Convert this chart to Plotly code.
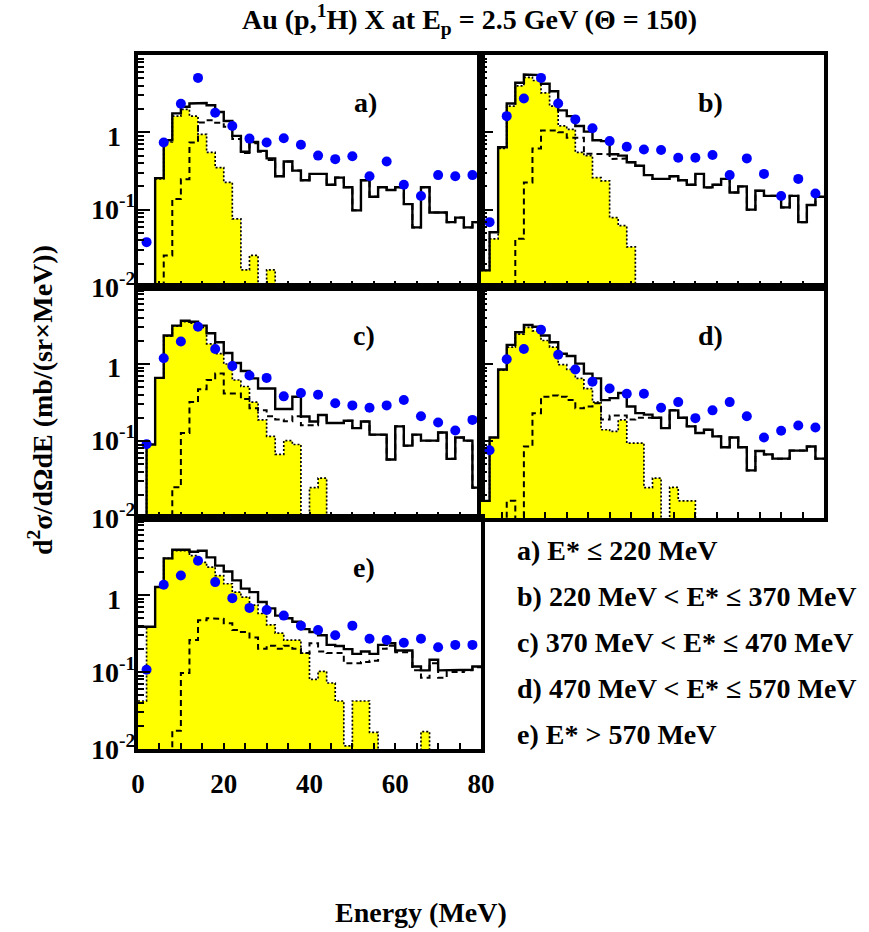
import math
import plotly.graph_objects as go

# ---------------- data ----------------
bin_edges = list(range(0, 82, 2))          # 2 MeV bins, 0..80 MeV
point_x = list(range(2, 80, 4))            # experimental points every 4 MeV

# panel a) E* <= 220 MeV
a_total = [0, 0, 0.256, 0.79, 1.76, 2.14, 2.36, 2.40, 2.24, 1.83,
           1.40, 0.90, 0.56, 0.75, 0.575, 0.46, 0.27, 0.42, 0.32, 0.24,
           0.29, 0.29, 0.21, 0.26, 0.195, 0.098, 0.24, 0.147, 0.195, 0.18,
           0.195, 0.118, 0.059, 0.195, 0.092, 0.092, 0.069, 0.079, 0.059, 0.069]
a_evap = [0, 0, 0.25, 0.75, 1.62, 1.98, 1.62, 0.94, 0.55, 0.35,
          0.225, 0.076, 0.0167, 0.0256, 0, 0.0167, 0, 0, 0, 0,
          0, 0, 0, 0, 0, 0, 0, 0, 0, 0,
          0, 0, 0, 0, 0, 0, 0, 0, 0, 0]
a_fast = [0, 0, 0, 0.0256, 0.137, 0.248, 0.74, 1.34, 1.43, 1.33,
          1.18, 0.82, 0.54, 0.72, 0.56, 0.44, 0.27, 0.42, 0.32, 0.24,
          0.29, 0.29, 0.21, 0.26, 0.195, 0.098, 0.24, 0.147, 0.195, 0.18,
          0.195, 0.118, 0.059, 0.195, 0.092, 0.092, 0.069, 0.079, 0.059, 0.069]
a_exp = [0.038, 0.74, 2.34, 5.06, 1.79, 1.21, 0.83, 0.74, 0.84, 0.69,
         0.50, 0.45, 0.49, 0.27, 0.42, 0.21, 0.15, 0.28, 0.27, 0.28]

# panel b) 220 < E* <= 370 MeV
b_total = [0.0164, 0.051, 0.64, 2.36, 4.37, 5.58, 5.5, 4.24, 3.40, 1.92,
           1.62, 1.21, 1.02, 0.79, 0.77, 0.52, 0.50, 0.41, 0.37, 0.28,
           0.25, 0.25, 0.27, 0.24, 0.21, 0.29, 0.194, 0.21, 0.25, 0.167,
           0.20, 0.10, 0.176, 0.151, 0.151, 0.107, 0.151, 0.069, 0.115, 0.147]
b_evap = [0.0164, 0.042, 0.62, 2.18, 3.98, 5.15, 4.68, 3.24, 2.18, 1.21,
          1.09, 0.55, 0.50, 0.26, 0.236, 0.079, 0.062, 0.033, 0, 0,
          0, 0, 0, 0, 0, 0, 0, 0, 0, 0,
          0, 0, 0, 0, 0, 0, 0, 0, 0, 0]
b_fast = [0, 0, 0, 0, 0.042, 0.225, 0.62, 1.06, 1.06, 1.0,
          0.85, 0.85, 0.53, 0.53, 0.52, 0.45, 0.46, 0.41, 0.37, 0.28,
          0.25, 0.25, 0.27, 0.24, 0.21, 0.29, 0.194, 0.21, 0.25, 0.167,
          0.20, 0.10, 0.176, 0.151, 0.151, 0.107, 0.151, 0.069, 0.115, 0.147]
b_exp = [0.069, 1.62, 2.74, 5.06, 2.36, 1.47, 1.13, 0.77, 0.65, 0.60,
         0.59, 0.47, 0.47, 0.51, 0.28, 0.46, 0.29, 0.15, 0.25, 0.162]

# panel c) 370 < E* <= 470 MeV
c_total = [0, 0.090, 0.66, 2.34, 3.15, 3.65, 3.54, 3.15, 2.51, 1.92,
           1.39, 1.03, 0.81, 0.65, 0.48, 0.48, 0.26, 0.26, 0.376, 0.208,
           0.179, 0.218, 0.171, 0.171, 0.183, 0.147, 0.179, 0.121, 0.121, 0.0575,
           0.155, 0.087, 0.121, 0.101, 0.101, 0.129, 0.0586, 0.111, 0.101, 0.0248]
c_evap = [0, 0.090, 0.66, 2.30, 3.10, 3.54, 3.40, 2.99, 1.83, 1.36,
          1.0, 0.62, 0.51, 0.32, 0.188, 0.115, 0.067, 0.101, 0.09, 0,
          0.0248, 0.033, 0, 0, 0, 0, 0, 0, 0, 0,
          0, 0, 0, 0, 0, 0, 0, 0, 0, 0]
c_fast = [0, 0, 0, 0, 0.025, 0.127, 0.32, 0.47, 0.62, 0.75,
          0.415, 0.415, 0.35, 0.266, 0.25, 0.21, 0.19, 0.18, 0.21, 0.16,
          0.16, 0.218, 0.171, 0.171, 0.183, 0.147, 0.179, 0.121, 0.121, 0.0575,
          0.155, 0.087, 0.121, 0.101, 0.101, 0.129, 0.0586, 0.111, 0.101, 0.0248]
c_exp = [0.091, 1.19, 1.96, 3.05, 1.57, 0.94, 0.71, 0.66, 0.38, 0.42,
         0.40, 0.31, 0.29, 0.27, 0.29, 0.34, 0.21, 0.174, 0.137, 0.188]

# panel d) 470 < E* <= 570 MeV
d_total = [0.0167, 0.111, 0.85, 1.77, 2.58, 3.21, 3.05, 2.34, 1.92, 1.36,
           1.27, 1.01, 0.75, 0.65, 0.34, 0.36, 0.42, 0.28, 0.23, 0.22,
           0.20, 0.147, 0.25, 0.20, 0.155, 0.127, 0.14, 0.115, 0.083, 0.111,
           0.083, 0.0415, 0.074, 0.067, 0.059, 0.059, 0.075, 0.075, 0.085, 0.059]
d_evap = [0.0167, 0.111, 0.83, 1.66, 2.45, 2.99, 2.70, 2.02, 1.66, 0.98,
          0.85, 0.65, 0.48, 0.32, 0.14, 0.133, 0.188, 0.094, 0.094, 0.0248,
          0.033, 0, 0.025, 0.0167, 0.0167, 0, 0, 0, 0, 0,
          0, 0, 0, 0, 0, 0, 0, 0, 0, 0]
d_fast = [0, 0, 0, 0.0167, 0, 0.085, 0.23, 0.376, 0.39, 0.376,
          0.34, 0.266, 0.28, 0.31, 0.19, 0.215, 0.215, 0.19, 0.20, 0.20,
          0.20, 0.147, 0.25, 0.20, 0.155, 0.127, 0.14, 0.115, 0.083, 0.111,
          0.083, 0.0415, 0.074, 0.067, 0.059, 0.059, 0.075, 0.075, 0.085, 0.059]
d_exp = [0.076, 1.15, 1.57, 2.79, 1.32, 0.85, 0.59, 0.48, 0.41, 0.41,
         0.27, 0.32, 0.198, 0.25, 0.32, 0.21, 0.111, 0.136, 0.159, 0.15]

# panel e) E* > 570 MeV
e_total = [0.387, 0.387, 1.27, 2.99, 3.87, 3.87, 3.65, 3.76, 3.08, 2.41,
           2.02, 1.55, 1.21, 1.09, 0.81, 0.67, 0.54, 0.50, 0.45, 0.36,
           0.33, 0.30, 0.225, 0.218, 0.198, 0.172, 0.185, 0.172, 0.225, 0.236,
           0.19, 0.19, 0.118, 0.105, 0.144, 0.105, 0.105, 0.105, 0.107, 0.118]
e_evap = [0.042, 0.387, 1.27, 2.99, 3.76, 3.76, 3.24, 2.66, 2.30, 1.79,
          1.40, 1.09, 0.94, 0.74, 0.575, 0.41, 0.32, 0.26, 0.26, 0.176,
          0.080, 0.102, 0.072, 0.042, 0.011, 0.042, 0.042, 0.0164, 0, 0,
          0, 0, 0, 0.0168, 0, 0, 0, 0, 0, 0]
e_fast = [0, 0, 0, 0, 0.0172, 0.097, 0.26, 0.47, 0.50, 0.49,
          0.43, 0.35, 0.33, 0.28, 0.20, 0.22, 0.20, 0.22, 0.20, 0.176,
          0.236, 0.185, 0.176, 0.176, 0.13, 0.13, 0.135, 0.14, 0.20, 0.22,
          0.18, 0.18, 0.105, 0.084, 0.13, 0.084, 0.10, 0.10, 0.105, 0.115]
e_exp = [0.107, 1.36, 1.79, 2.79, 1.47, 0.91, 0.68, 0.64, 0.54, 0.40,
         0.35, 0.30, 0.40, 0.27, 0.26, 0.24, 0.27, 0.21, 0.225, 0.225]

panel_names = ["a", "b", "c", "d", "e"]
legend_lines = ["a) E* \u2264 220 MeV",
                "b) 220 MeV &lt; E* \u2264 370 MeV",
                "c) 370 MeV &lt; E* \u2264 470 MeV",
                "d) 470 MeV &lt; E* \u2264 570 MeV",
                "e) E* &gt; 570 MeV"]
y_tick_vals = [0.01, 0.1, 1]
y_tick_text = ["10<sup>-2</sup>", "10<sup>-1</sup>", "1"]
x_tick_vals = [0, 20, 40, 60, 80]

# ---------------- layout helpers ----------------
W, H = 869, 932
FONT = "Liberation Serif"
FS = 28
FLOOR = 1e-4


def fx(px):
    return px / W


def fy(py):
    return 1 - py / H


panel_box = {  # pixel boxes in the page: x0, x1, y0(top), y1(bottom)
    "a": (138, 481, 55, 287),
    "b": (481, 824, 55, 287),
    "c": (138, 481, 287, 518),
    "d": (481, 824, 287, 518),
    "e": (138, 481, 518, 749),
}
series = {
    "a": (a_total, a_evap, a_fast, a_exp),
    "b": (b_total, b_evap, b_fast, b_exp),
    "c": (c_total, c_evap, c_fast, c_exp),
    "d": (d_total, d_evap, d_fast, d_exp),
    "e": (e_total, e_evap, e_fast, e_exp),
}


def step_xy(vals):
    xs, ys = [], []
    for i, v in enumerate(vals):
        v = v if v > 0 else FLOOR
        xs += [bin_edges[i], bin_edges[i + 1]]
        ys += [v, v]
    return xs, ys


fig = go.Figure()
layout = dict(width=W, height=H, margin=dict(l=0, r=0, t=0, b=0),
              paper_bgcolor="white", plot_bgcolor="white", showlegend=False)

minor_y = [m * 10.0 ** p for p in (-2, -1, 0) for m in range(2, 10)]
minor_x = list(range(5, 80, 5))

annotations = []
for k, name in enumerate(panel_names):
    idx = "" if k == 0 else str(k + 1)
    xa, ya = "x" + idx, "y" + idx
    x0, x1, y0, y1 = panel_box[name]
    total, evap, fast, exp = series[name]

    ex, ey = step_xy(evap)
    fig.add_trace(go.Scatter(x=[0] + ex + [80], y=[FLOOR] + ey + [FLOOR],
                             fill="toself", fillcolor="#FFFF00", mode="lines",
                             line=dict(width=0), xaxis=xa, yaxis=ya, hoverinfo="skip"))
    fig.add_trace(go.Scatter(x=ex, y=ey, mode="lines",
                             line=dict(color="black", width=1.7, dash="2px,2px"),
                             xaxis=xa, yaxis=ya))
    fxs, fys = step_xy(fast)
    fig.add_trace(go.Scatter(x=fxs, y=fys, mode="lines",
                             line=dict(color="black", width=2, dash="6px,4px"),
                             xaxis=xa, yaxis=ya))
    txs, tys = step_xy(total)
    fig.add_trace(go.Scatter(x=txs, y=tys, mode="lines",
                             line=dict(color="black", width=2.4),
                             xaxis=xa, yaxis=ya))
    fig.add_trace(go.Scatter(x=point_x, y=exp, mode="markers",
                             marker=dict(color="#0000FF", size=10, line=dict(width=0)),
                             xaxis=xa, yaxis=ya))

    left_col = name in ("a", "c", "e")
    layout["xaxis" + idx] = dict(
        domain=[fx(x0), fx(x1)], anchor=ya, range=[0, 80],
        showline=True, mirror=True, linewidth=3.5, linecolor="black",
        showgrid=False, zeroline=False,
        tickmode="array", tickvals=x_tick_vals,
        ticktext=["<b>%d</b>" % v for v in x_tick_vals],
        showticklabels=(name == "e"),
        ticks="inside", ticklen=6, tickwidth=1.5, tickcolor="black",
        minor=dict(tickmode="array", tickvals=minor_x, ticks="inside",
                   ticklen=6, tickwidth=1.5, tickcolor="black", showgrid=False),
        tickfont=dict(family=FONT, size=27, color="black"),
        ticklabelstandoff=8,
        automargin=False, fixedrange=True,
    )
    layout["yaxis" + idx] = dict(
        domain=[fy(y1), fy(y0)], anchor=xa, type="log", range=[-2, 1],
        showline=True, mirror=True, linewidth=3.5, linecolor="black",
        showgrid=False, zeroline=False,
        tickmode="array", tickvals=y_tick_vals,
        showticklabels=False,
        ticks="inside", ticklen=12, tickwidth=1.5, tickcolor="black",
        minor=dict(tickmode="array", tickvals=minor_y, ticks="inside",
                   ticklen=6, tickwidth=1.5, tickcolor="black", showgrid=False),
        automargin=False, fixedrange=True,
    )
    # y tick labels drawn at the axis values of the left column panels
    if left_col:
        for v, t in zip(y_tick_vals, y_tick_text):
            lv = math.log10(v)
            if t == "1":
                annotations.append(dict(x=fx(114), y=lv, xref="paper", yref=ya,
                                        xanchor="center", yanchor="middle", yshift=-4,
                                        text="<b>1</b>", showarrow=False,
                                        font=dict(family=FONT, size=FS, color="black")))
            else:
                annotations.append(dict(x=fx(137), y=lv, xref="paper", yref=ya,
                                        xanchor="right", yanchor="middle", yshift=2,
                                        text="<b>%s</b>" % t, showarrow=False,
                                        font=dict(family=FONT, size=FS, color="black")))

# panel letters
letter_pos = {"a": (365, 103), "b": (710, 103), "c": (364, 335),
              "d": (710, 335), "e": (364, 567)}
for name in panel_names:
    px, py = letter_pos[name]
    annotations.append(dict(x=fx(px), y=fy(py), xref="paper", yref="paper",
                            xanchor="center", yanchor="middle",
                            text="<b>%s)</b>" % name, showarrow=False,
                            font=dict(family=FONT, size=FS, color="black")))

# legend text block
legend_y = [550, 596, 642, 688, 734]
for line, py in zip(legend_lines, legend_y):
    annotations.append(dict(x=fx(515), y=fy(py), xref="paper", yref="paper",
                            xanchor="left", yanchor="middle",
                            text="<b>%s</b>" % line, showarrow=False,
                            font=dict(family=FONT, size=FS, color="black")))

# titles
annotations.append(dict(x=fx(470), y=fy(19), xref="paper", yref="paper",
                        xanchor="center", yanchor="middle",
                        text="<b>Au (p,<sup>1</sup>H) X at E<sub>p</sub> = 2.5 GeV (\u0398 = 150)</b>",
                        showarrow=False, font=dict(family=FONT, size=FS, color="black")))
annotations.append(dict(x=fx(40), y=fy(400), xref="paper", yref="paper",
                        xanchor="center", yanchor="middle",
                        text="<b>d<sup>2</sup>\u03c3/d\u03a9dE (mb/(sr\u00d7MeV))</b>",
                        textangle=-90, showarrow=False,
                        font=dict(family=FONT, size=FS, color="black")))
annotations.append(dict(x=fx(421), y=fy(912), xref="paper", yref="paper",
                        xanchor="center", yanchor="middle",
                        text="<b>Energy (MeV)</b>", showarrow=False,
                        font=dict(family=FONT, size=FS, color="black")))

layout["annotations"] = annotations
fig.update_layout(**layout)
fig.write_html("out.html",
               config={"displayModeBar": False},
               post_script="document.body.style.margin='0px';"
                           "document.body.style.overflow='hidden';")
